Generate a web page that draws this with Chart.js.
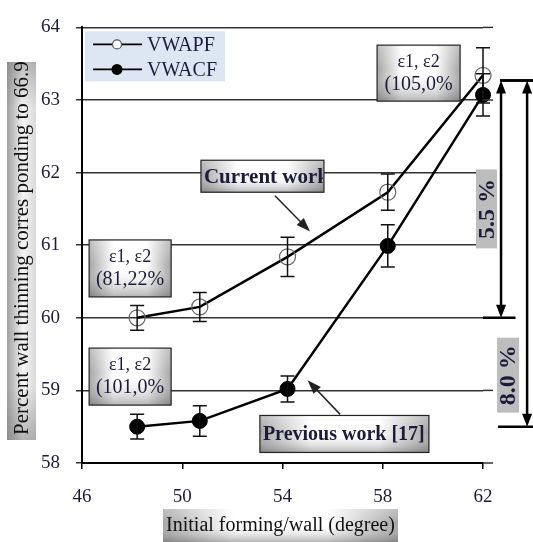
<!DOCTYPE html>
<html>
<head>
<meta charset="utf-8">
<script src="https://cdn.jsdelivr.net/npm/chart.js@4.4.1/dist/chart.umd.min.js"></script>
<style>
  html, body { margin: 0; padding: 0; background: #fff; }
  #wrap { width: 533px; height: 542px; }
</style>
</head>
<body>
<div id="wrap"><canvas id="chart" width="533" height="542"></canvas></div>
<script>
// Данные графика
const angles = [48.2, 50.7, 54.2, 58.2, 62.0];
const vwapf = [60.0, 60.15, 60.84, 61.73, 63.34];
const vwapfErr = [0.17, 0.2, 0.27, 0.25, 0.38];
const vwacf = [58.5, 58.58, 59.02, 60.99, 63.07];
const vwacfErr = [0.17, 0.21, 0.18, 0.29, 0.29];
const seriesNames = ['VWAPF', 'VWACF'];

const xTitle = 'Initial forming/wall (degree)';
const yTitle = 'Percent wall thinning corres ponding to 66.9';

// Подписи на поле графика (в координатах данных)
const notes = [
    { x: 47.92, y: 60.68, w: 82, h: 57, lines: ['ε1, ε2', '(81,22%'] },
    { x: 47.92, y: 59.19, w: 82, h: 57, lines: ['ε1, ε2', '(101,0%'] },
    { x: 59.43, y: 63.37, w: 83, h: 56, lines: ['ε1, ε2', '(105,0%'] }
];
const callouts = [
    { x: 53.2, y: 61.95, w: 123, h: 32, size: 21, text: 'Current work', from: [53.7, 61.68], to: [55.1, 61.19] },
    { x: 56.47, y: 58.40, w: 169, h: 37, size: 20, text: 'Previous work [17]', from: [56.3, 58.67], to: [55.0, 59.14] }
];
const spans = [
    { x: 62.72, top: 63.27, bottom: 60.0, label: '5.5 %', lx: 62.14, ly: 61.5, lw: 21, lh: 79, topTick: [62.68, 64.0], botTick: [62.0, 63.3] },
    { x: 63.76, top: 63.27, bottom: 58.5, label: '8.0 %', lx: 63.0, ly: 59.21, lw: 22, lh: 75, topTick: [62.68, 64.0], botTick: [62.6, 64.0] }
];

const serif = '"Liberation Serif", "DejaVu Serif", serif';
const ink = '#1c1c3a';

function gradBox(ctx, x, y, w, h) {
    const g = ctx.createLinearGradient(x, 0, x + w, 0);
    g.addColorStop(0, '#a4a4a4');
    g.addColorStop(0.3, '#ffffff');
    g.addColorStop(0.7, '#ffffff');
    g.addColorStop(1, '#a4a4a4');
    ctx.fillStyle = g;
    ctx.fillRect(x, y, w, h);
    const v = ctx.createLinearGradient(0, y, 0, y + h);
    v.addColorStop(0, 'rgba(255,255,255,0.3)');
    v.addColorStop(0.45, 'rgba(255,255,255,0)');
    v.addColorStop(1, 'rgba(90,90,90,0.45)');
    ctx.fillStyle = v;
    ctx.fillRect(x, y, w, h);
}

function arrowHead(ctx, x1, y1, x2, y2, len, wid) {
    const a = Math.atan2(y2 - y1, x2 - x1);
    ctx.beginPath();
    ctx.moveTo(x2, y2);
    ctx.lineTo(x2 - len * Math.cos(a) + wid / 2 * Math.sin(a), y2 - len * Math.sin(a) - wid / 2 * Math.cos(a));
    ctx.lineTo(x2 - len * Math.cos(a) - wid / 2 * Math.sin(a), y2 - len * Math.sin(a) + wid / 2 * Math.cos(a));
    ctx.closePath();
    ctx.fill();
}

// Планки погрешностей
const errorBars = {
    id: 'errorBars',
    afterDatasetsDraw(chart) {
        const ctx = chart.ctx;
        const ys = chart.scales.y;
        ctx.save();
        ctx.strokeStyle = '#111';
        ctx.lineWidth = 1.5;
        chart.data.datasets.forEach((ds, di) => {
            const meta = chart.getDatasetMeta(di);
            meta.data.forEach((pt, i) => {
                const v = ds.data[i].y;
                const e = ds.errors[i];
                const top = ys.getPixelForValue(v + e);
                const bot = ys.getPixelForValue(v - e);
                ctx.beginPath();
                ctx.moveTo(pt.x, top); ctx.lineTo(pt.x, bot);
                ctx.moveTo(pt.x - 7, top); ctx.lineTo(pt.x + 7, top);
                ctx.moveTo(pt.x - 7, bot); ctx.lineTo(pt.x + 7, bot);
                ctx.stroke();
            });
        });
        ctx.restore();
    }
};

// Легенда, подписи, стрелки и заголовки осей
const decorations = {
    id: 'decorations',
    afterDraw(chart) {
        const ctx = chart.ctx;
        const xs = chart.scales.x, ys = chart.scales.y;
        const area = chart.chartArea;
        const X = v => xs.getPixelForValue(v);
        const Y = v => ys.getPixelForValue(v);
        ctx.save();

        // линии сетки чуть выходят за ось
        ctx.strokeStyle = '#333';
        ctx.lineWidth = 1.5;
        ys.ticks.forEach(t => {
            ctx.beginPath();
            ctx.moveTo(area.right, Y(t.value));
            ctx.lineTo(X(62.4), Y(t.value));
            ctx.stroke();
        });

        // размерные стрелки справа
        ctx.strokeStyle = '#000';
        ctx.fillStyle = '#000';
        spans.forEach(s => {
            ctx.lineWidth = 2.5;
            ctx.beginPath();
            ctx.moveTo(X(s.topTick[0]), Y(s.top)); ctx.lineTo(X(s.topTick[1]), Y(s.top));
            ctx.moveTo(X(s.botTick[0]), Y(s.bottom)); ctx.lineTo(X(s.botTick[1]), Y(s.bottom));
            ctx.moveTo(X(s.x), Y(s.top) + 8); ctx.lineTo(X(s.x), Y(s.bottom) - 8);
            ctx.stroke();
            arrowHead(ctx, X(s.x), Y(s.top) + 20, X(s.x), Y(s.top), 13, 10);
            arrowHead(ctx, X(s.x), Y(s.bottom) - 20, X(s.x), Y(s.bottom), 13, 10);
        });
        spans.forEach(s => {
            const cx = X(s.lx), cy = Y(s.ly);
            ctx.fillStyle = '#bdbdbd';
            ctx.fillRect(cx - s.lw / 2, cy - s.lh / 2, s.lw, s.lh);
            ctx.save();
            ctx.translate(cx, cy);
            ctx.rotate(-Math.PI / 2);
            ctx.fillStyle = ink;
            ctx.font = 'bold 24px ' + serif;
            ctx.textAlign = 'center';
            ctx.textBaseline = 'middle';
            ctx.fillText(s.label, 0, 1);
            ctx.restore();
        });

        // рамки с деформациями
        notes.forEach(n => {
            const x = X(n.x) - n.w / 2, y = Y(n.y) - n.h / 2;
            gradBox(ctx, x, y, n.w, n.h);
            ctx.strokeStyle = '#222';
            ctx.lineWidth = 1.2;
            ctx.strokeRect(x, y, n.w, n.h);
            ctx.fillStyle = ink;
            ctx.textAlign = 'center';
            ctx.textBaseline = 'middle';
            ctx.font = '18px ' + serif;
            ctx.fillText(n.lines[0], x + n.w / 2, y + 17);
            ctx.font = '20px ' + serif;
            ctx.fillText(n.lines[1], x + n.w / 2, y + 40);
        });

        // выноски
        callouts.forEach(c => {
            ctx.strokeStyle = '#222';
            ctx.fillStyle = '#222';
            ctx.lineWidth = 1.5;
            const x1 = X(c.from[0]), y1 = Y(c.from[1]), x2 = X(c.to[0]), y2 = Y(c.to[1]);
            const a = Math.atan2(y2 - y1, x2 - x1);
            ctx.beginPath();
            ctx.moveTo(x1, y1);
            ctx.lineTo(x2 - 8 * Math.cos(a), y2 - 8 * Math.sin(a));
            ctx.stroke();
            arrowHead(ctx, x1, y1, x2, y2, 14, 10);

            const x = X(c.x) - c.w / 2, y = Y(c.y) - c.h / 2;
            gradBox(ctx, x, y, c.w, c.h);
            ctx.strokeStyle = '#222';
            ctx.lineWidth = 1.2;
            ctx.strokeRect(x, y, c.w, c.h);
            ctx.save();
            ctx.beginPath();
            ctx.rect(x + 1, y + 1, c.w - 2, c.h - 2);
            ctx.clip();
            ctx.fillStyle = ink;
            ctx.font = 'bold ' + c.size + 'px ' + serif;
            ctx.textAlign = 'left';
            ctx.textBaseline = 'middle';
            ctx.fillText(c.text, x + 3, y + c.h / 2 + 1);
            ctx.restore();
        });

        // легенда
        const lx = area.left + 3, ly = area.top + 4;
        ctx.fillStyle = '#dde7f3';
        ctx.fillRect(lx, ly, 140, 50);
        chart.data.datasets.forEach((ds, i) => {
            const ry = ly + 13 + i * 25;
            ctx.strokeStyle = '#000';
            ctx.lineWidth = 1.8;
            ctx.beginPath();
            ctx.moveTo(lx + 8, ry); ctx.lineTo(lx + 57, ry);
            ctx.stroke();
            ctx.beginPath();
            ctx.arc(lx + 32, ry, i === 0 ? 4.5 : 5.5, 0, Math.PI * 2);
            if (i === 0) {
                ctx.fillStyle = '#fff';
                ctx.fill();
                ctx.strokeStyle = '#555';
                ctx.lineWidth = 1.2;
                ctx.stroke();
            } else {
                ctx.fillStyle = '#000';
                ctx.fill();
            }
            ctx.fillStyle = ink;
            ctx.font = '20px ' + serif;
            ctx.textAlign = 'left';
            ctx.textBaseline = 'middle';
            ctx.fillText(ds.label, lx + 62, ry + 1);
        });

        // подпись оси X
        const bx = 163, by = 509, bw = 235, bh = 33;
        gradBox(ctx, bx, by, bw, bh);
        ctx.fillStyle = '#111';
        ctx.font = '20px ' + serif;
        ctx.textAlign = 'center';
        ctx.textBaseline = 'middle';
        ctx.fillText(xTitle, bx + bw / 2, by + bh / 2);

        // подпись оси Y (верх обрезан рамкой, как в оригинале)
        const yx = 7, yy = 62, yw = 29, yh = 378;
        const g = ctx.createLinearGradient(yx, 0, yx + yw, 0);
        g.addColorStop(0, '#a0a0a0');
        g.addColorStop(0.55, '#f4f4f4');
        g.addColorStop(1, '#dadada');
        ctx.fillStyle = g;
        ctx.fillRect(yx, yy, yw, yh);
        const gv = ctx.createLinearGradient(0, yy, 0, yy + yh);
        gv.addColorStop(0, 'rgba(120,120,120,0.45)');
        gv.addColorStop(0.12, 'rgba(120,120,120,0)');
        gv.addColorStop(0.86, 'rgba(120,120,120,0)');
        gv.addColorStop(1, 'rgba(120,120,120,0.5)');
        ctx.fillStyle = gv;
        ctx.fillRect(yx, yy, yw, yh);
        ctx.save();
        ctx.beginPath();
        ctx.rect(yx, yy, yw, yh);
        ctx.clip();
        ctx.translate(yx + yw / 2 + 1, yy + yh - 5);
        ctx.rotate(-Math.PI / 2);
        ctx.fillStyle = '#111';
        ctx.font = '21px ' + serif;
        ctx.textAlign = 'left';
        ctx.textBaseline = 'middle';
        ctx.fillText(yTitle, 0, 0);
        ctx.restore();

        ctx.restore();
    }
};

const chart = new Chart(document.getElementById('chart').getContext('2d'), {
    type: 'line',
    data: {
        datasets: [{
            label: seriesNames[0],
            data: angles.map((x, i) => ({ x: x, y: vwapf[i] })),
            errors: vwapfErr,
            borderColor: '#000',
            borderWidth: 2.5,
            pointRadius: 8,
            pointBackgroundColor: 'rgba(0,0,0,0)',
            pointBorderColor: '#666',
            pointBorderWidth: 1.2,
            tension: 0,
            clip: false
        }, {
            label: seriesNames[1],
            data: angles.map((x, i) => ({ x: x, y: vwacf[i] })),
            errors: vwacfErr,
            borderColor: '#000',
            borderWidth: 2.5,
            pointRadius: 7.5,
            pointBackgroundColor: '#000',
            pointBorderColor: '#000',
            pointBorderWidth: 1,
            tension: 0,
            clip: false
        }]
    },
    options: {
        responsive: false,
        animation: false,
        devicePixelRatio: 1,
        layout: { padding: { left: 0, right: 50, top: 16, bottom: 0 } },
        plugins: {
            legend: { display: false },
            tooltip: { enabled: false }
        },
        scales: {
            x: {
                type: 'linear',
                min: 46,
                max: 62,
                ticks: { stepSize: 4, color: ink, font: { family: serif, size: 19 }, padding: 17 },
                grid: { drawOnChartArea: false, drawTicks: true, tickLength: 6, color: '#000', lineWidth: 1.5 },
                border: { display: true, color: '#000', width: 2 },
                afterFit: s => { s.height = 79; }
            },
            y: {
                min: 58,
                max: 64,
                ticks: { stepSize: 1, color: ink, font: { family: serif, size: 19 }, padding: 16 },
                grid: { color: '#333', lineWidth: 1.5, tickLength: 6 },
                border: { display: true, color: '#000', width: 2 },
                afterFit: s => { s.width = 82; }
            }
        }
    },
    plugins: [errorBars, decorations]
});
</script>
</body>
</html>
